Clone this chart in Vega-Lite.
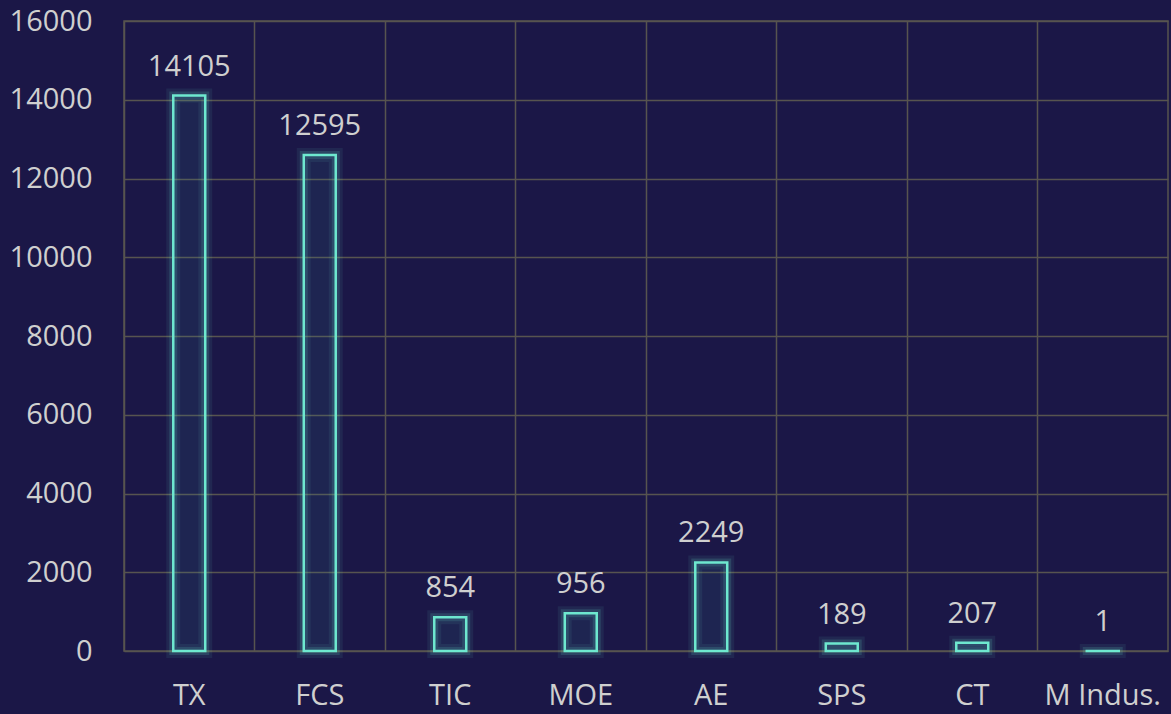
{
  "$schema": "https://vega.github.io/schema/vega-lite/v6.json",
  "width": 1044,
  "height": 630,
  "autosize": {"type": "none"},
  "padding": {"left": 124, "top": 21, "right": 3, "bottom": 63},
  "background": "#1b1747",
  "config": {
    "view": {"stroke": "#57544f", "strokeWidth": 1.5},
    "font": "Open Sans"
  },
  "data": {
    "values": [
      {"category": "TX", "value": 14105},
      {"category": "FCS", "value": 12595},
      {"category": "TIC", "value": 854},
      {"category": "MOE", "value": 956},
      {"category": "AE", "value": 2249},
      {"category": "SPS", "value": 189},
      {"category": "CT", "value": 207},
      {"category": "M Indus.", "value": 1}
    ]
  },
  "encoding": {
    "x": {
      "field": "category",
      "type": "nominal",
      "sort": null,
      "scale": {"paddingInner": 0, "paddingOuter": 0},
      "axis": {
        "title": null,
        "labelAngle": 0,
        "labelFontSize": 29,
        "labelColor": "#cfcfcf",
        "labelPadding": 30,
        "ticks": false,
        "domain": false,
        "grid": true,
        "bandPosition": 0,
        "gridColor": "#57544f",
        "gridWidth": 1.5
      }
    },
    "y": {
      "field": "value",
      "type": "quantitative",
      "scale": {"domain": [0, 16000], "nice": false},
      "axis": {
        "title": null,
        "values": [0, 2000, 4000, 6000, 8000, 10000, 12000, 14000, 16000],
        "format": "d",
        "labelFontSize": 29,
        "labelColor": "#cfcfcf",
        "labelPadding": 32,
        "ticks": false,
        "domain": false,
        "gridColor": "#57544f",
        "gridWidth": 1.5
      }
    }
  },
  "layer": [
    {
      "mark": {"type": "bar", "width": {"band": 0.245}, "fill": "transparent", "stroke": "#6ee8cf", "strokeWidth": 14, "strokeOpacity": 0.08}
    },
    {
      "mark": {"type": "bar", "width": {"band": 0.245}, "fill": "transparent", "stroke": "#6ee8cf", "strokeWidth": 8, "strokeOpacity": 0.15}
    },
    {
      "mark": {"type": "bar", "width": {"band": 0.245}, "fill": "#3a8a9a", "fillOpacity": 0.12, "stroke": "#6ee8cf", "strokeWidth": 2.5}
    },
    {
      "mark": {"type": "text", "baseline": "alphabetic", "dy": -20, "fontSize": 29, "color": "#cfcfcf"},
      "encoding": {"text": {"field": "value", "type": "quantitative", "format": "d"}}
    }
  ]
}
